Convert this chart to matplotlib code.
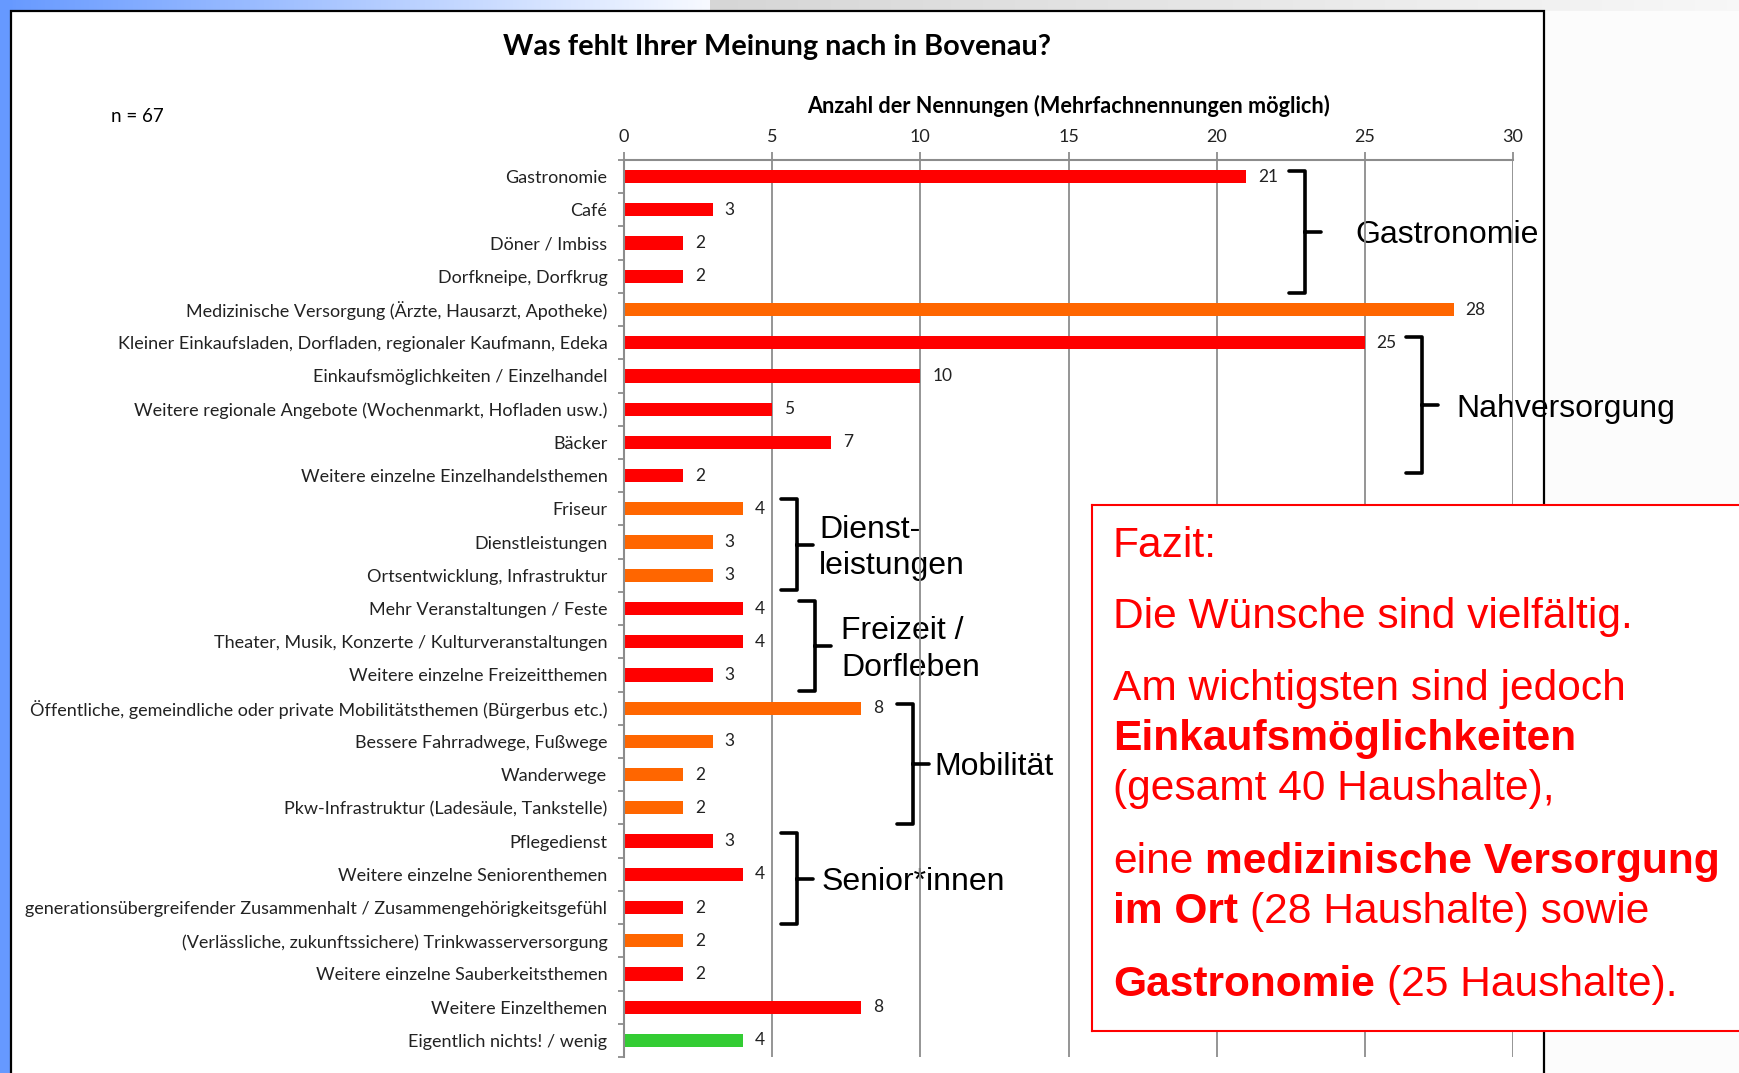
import matplotlib
matplotlib.use("Agg")
import matplotlib.pyplot as plt
import numpy as np
from matplotlib.patches import Rectangle
from matplotlib.path import Path
from matplotlib.patches import PathPatch

plt.rcParams['font.family'] = ['Lato', 'DejaVu Sans']

labels = [
    "Gastronomie",
    "Café",
    "Döner / Imbiss",
    "Dorfkneipe, Dorfkrug",
    "Medizinische Versorgung (Ärzte, Hausarzt, Apotheke)",
    "Kleiner Einkaufsladen, Dorfladen, regionaler Kaufmann, Edeka",
    "Einkaufsmöglichkeiten / Einzelhandel",
    "Weitere regionale Angebote (Wochenmarkt, Hofladen usw.)",
    "Bäcker",
    "Weitere einzelne Einzelhandelsthemen",
    "Friseur",
    "Dienstleistungen",
    "Ortsentwicklung, Infrastruktur",
    "Mehr Veranstaltungen / Feste",
    "Theater, Musik, Konzerte / Kulturveranstaltungen",
    "Weitere einzelne Freizeitthemen",
    "Öffentliche, gemeindliche oder private Mobilitätsthemen (Bürgerbus etc.)",
    "Bessere Fahrradwege, Fußwege",
    "Wanderwege",
    "Pkw-Infrastruktur (Ladesäule, Tankstelle)",
    "Pflegedienst",
    "Weitere einzelne Seniorenthemen",
    "generationsübergreifender Zusammenhalt / Zusammengehörigkeitsgefühl",
    "(Verlässliche, zukunftssichere) Trinkwasserversorgung",
    "Weitere einzelne Sauberkeitsthemen",
    "Weitere Einzelthemen",
    "Eigentlich nichts! / wenig",
]
values = [21, 3, 2, 2, 28, 25, 10, 5, 7, 2, 4, 3, 3, 4, 4, 3, 8, 3, 2, 2, 3, 4, 2, 2, 2, 8, 4]

RED, ORANGE, GREEN = "#ff0000", "#ff6600", "#33cc33"
colors = [RED, RED, RED, RED, ORANGE, RED, RED, RED, RED, RED,
          ORANGE, ORANGE, ORANGE, RED, RED, RED,
          ORANGE, ORANGE, ORANGE, ORANGE, RED, RED, RED, ORANGE, RED, RED, GREEN]

groups = ["Gastronomie", "Nahversorgung", "Dienst-\nleistungen",
          "Freizeit /\nDorfleben", "Mobilität", "Senior*innen"]
# brace layout (category units / x units)
brace_top = [-0.17, 4.83, 9.71, 12.78, 15.86, 19.77]
brace_bot = [3.5, 8.93, 12.45, 15.49, 19.5, 22.51]
brace_x = [22.98, 26.93, 5.84, 6.45, 9.75, 5.84]
group_text_x = [24.67, 28.08, 6.58, 7.32, 10.49, 6.65]

W, H = 1739, 1073
fig = plt.figure(figsize=(W / 100, H / 100), dpi=100)

# background / slide decoration
bg = fig.add_axes([0, 0, 1, 1], zorder=-5)
g = np.linspace(0, 1, 256)[:, None]
blue = np.array([0.40, 0.60, 1.0])
strip = (1 - g) * blue + g * np.array([0.97, 0.98, 1.0])
bg.imshow(strip[None], extent=(0, 710, 11, 0), aspect='auto')
grey = (1 - g) * np.array([0.84, 0.84, 0.84]) + g * np.array([0.97, 0.97, 0.97])
bg.imshow(grey[None], extent=(710, W, 11, 0), aspect='auto')
bg.add_patch(Rectangle((0, 0), 11, H, color="#6699ff"))
bg.add_patch(Rectangle((1544, 11), W - 1544, H, color="#fcfcfc"))
bg.add_patch(Rectangle((11, 11), 1533, H + 20, facecolor="white", edgecolor="black", lw=1.6))
bg.set_xlim(0, W)
bg.set_ylim(H, 0)
bg.axis('off')

# main chart
ax = fig.add_axes([624 / W, 1 - 1057 / H, (1513 - 624) / W, (1057 - 160) / H], zorder=1)
ax.patch.set_alpha(0)
y = np.arange(len(labels))
bars = ax.barh(y, values, height=0.4, color=colors, zorder=2)
ax.bar_label(bars, padding=8.5, fontsize=12.5, color="#222222")
ax.set_xlim(0, 30)
ax.set_ylim(len(labels) - 0.5, -0.5)
ax.xaxis.tick_top()
ax.xaxis.set_label_position('top')
ax.set_xticks(range(0, 31, 5))
ax.grid(axis='x', color='#8c8c8c', lw=1.3)
ax.set_axisbelow(True)
ax.set_yticks(y, labels)
ax.set_yticks(np.arange(len(labels) + 1) - 0.5, minor=True)
ax.tick_params(axis='y', which='major', length=0, pad=12, labelsize=13, labelcolor='#222222')
ax.tick_params(axis='y', which='minor', length=4.5, color='#8c8c8c', width=1.3)
ax.tick_params(axis='x', length=6, color='#8c8c8c', width=1.3, pad=5, labelsize=13,
               labelcolor='#222222')
for s in ['right', 'bottom']:
    ax.spines[s].set_visible(False)
for s in ['top', 'left']:
    ax.spines[s].set_color('#8c8c8c')
    ax.spines[s].set_linewidth(1.5)
ax.set_xlabel("Anzahl der Nennungen (Mehrfachnennungen möglich)", fontweight='bold',
              fontsize=15.6, labelpad=11)

# braces and group names
hook = 0.55
for name, top, bot, bx, tx in zip(groups, brace_top, brace_bot, brace_x, group_text_x):
    mid = (top + bot) / 2
    verts = [(bx - hook, top), (bx, top), (bx, bot), (bx - hook, bot),
             (bx, mid), (bx + hook, mid)]
    codes = [Path.MOVETO, Path.LINETO, Path.LINETO, Path.LINETO, Path.MOVETO, Path.LINETO]
    ax.add_patch(PathPatch(Path(verts, codes), fill=False, lw=2.6, color='black',
                           joinstyle='round', capstyle='round', clip_on=False, zorder=3))
    ax.text(tx, mid + 0.1, name, fontsize=23, family='Liberation Sans', va='center',
            ha='left', linespacing=1.3, clip_on=False, zorder=0.2)

# titles
fig.text(777 / W, 1 - 47 / H, "Was fehlt Ihrer Meinung nach in Bovenau?", fontsize=20.8,
         fontweight='bold', ha='center', va='center')
fig.text(111 / W, 1 - 116 / H, "n = 67", fontsize=13.5, ha='left', va='center')

# conclusion box
box = fig.add_axes([1092 / W, 1 - 1031 / H, (W - 1092 + 10) / W, (1031 - 505) / H], zorder=4)
box.set_xticks([])
box.set_yticks([])
box.set_facecolor('white')
for s in box.spines.values():
    s.set_color('red')
    s.set_linewidth(1.5)

renderer = fig.canvas.get_renderer()
fs = 30.6
space = 0.278 * fs * 100 / 72
lines = [
    (557, [("Fazit:", False)]),
    (628, [("Die Wünsche sind vielfältig.", False)]),
    (700, [("Am wichtigsten sind jedoch", False)]),
    (750, [("Einkaufsmöglichkeiten", True)]),
    (800, [("(gesamt 40 Haushalte),", False)]),
    (873, [("eine", False), ("medizinische Versorgung", True)]),
    (923, [("im Ort", True), ("(28 Haushalte) sowie", False)]),
    (996, [("Gastronomie", True), ("(25 Haushalte).", False)]),
]
for yb, parts in lines:
    x = 1113
    for txt, bold in parts:
        t = fig.text(x / W, 1 - yb / H, txt, fontsize=fs, color='red', family='Liberation Sans',
                     fontweight='bold' if bold else 'normal', va='baseline', ha='left', zorder=6)
        x += t.get_window_extent(renderer).width + space

fig.savefig("out.png", dpi=100)
